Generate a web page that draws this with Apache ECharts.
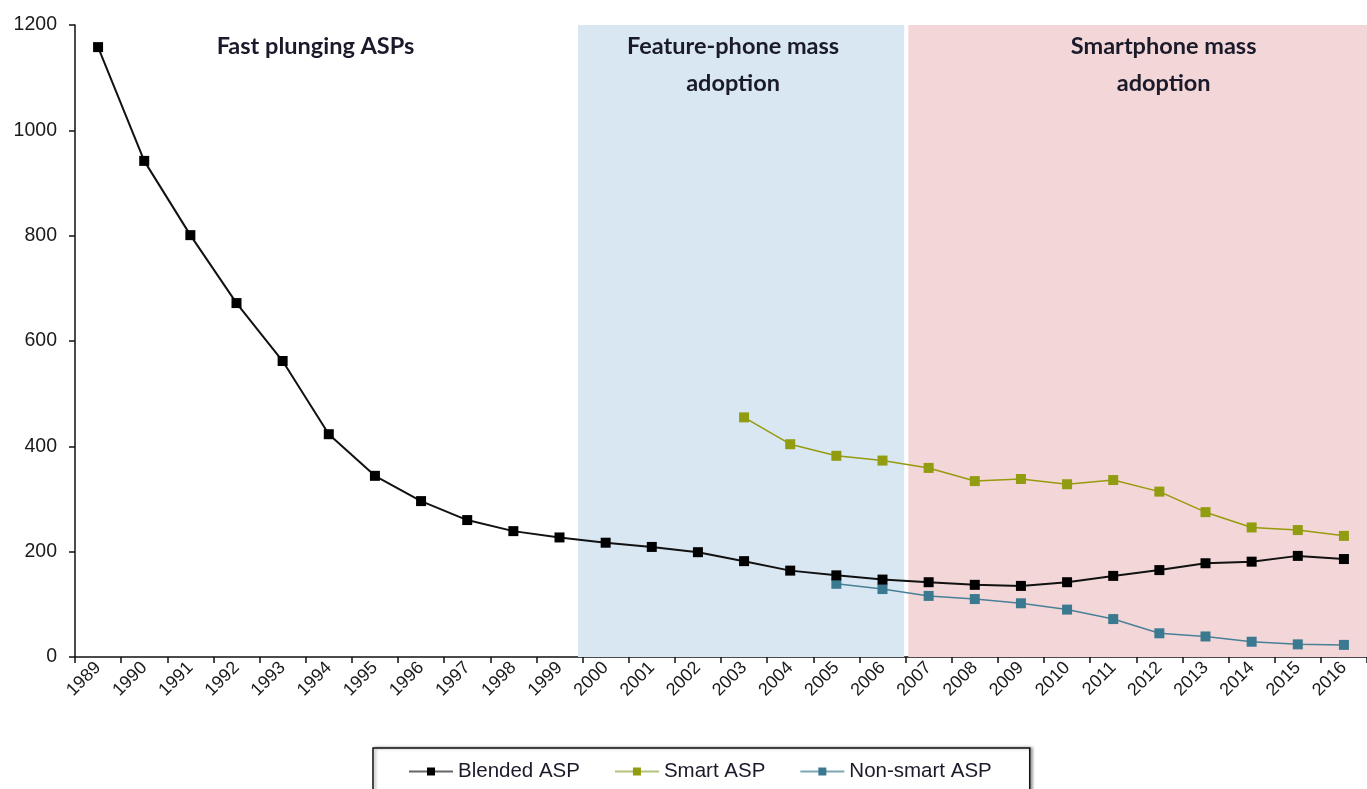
<!DOCTYPE html>
<html>
<head>
<meta charset="utf-8">
<script src="https://cdn.jsdelivr.net/npm/echarts@6/dist/echarts.min.js"></script>
<style>
html,body{margin:0;padding:0;background:#fff;}
#chart{width:1367px;height:789px;}
</style>
</head>
<body>
<div id="chart"></div>
<script>
const years = ['1989','1990','1991','1992','1993','1994','1995','1996','1997','1998','1999','2000','2001','2002','2003','2004','2005','2006','2007','2008','2009','2010','2011','2012','2013','2014','2015','2016'];
const blendedASP = [1158, 942, 801, 672, 562, 423, 344, 296, 260, 239, 227, 217, 209, 199, 182, 164, 155, 147, 142, 137, 135, 142, 154, 165, 178, 181, 192, 186];
const smartASP = [null,null,null,null,null,null,null,null,null,null,null,null,null,null, 455, 404, 382, 373, 359, 334, 338, 328, 336, 314, 275, 246, 241, 230];
const nonSmartASP = [null,null,null,null,null,null,null,null,null,null,null,null,null,null,null,null, 139, 129, 116, 110, 102, 90, 72, 45, 39, 29, 24, 23];
const yTicks = [0, 200, 400, 600, 800, 1000, 1200];
// phase bands, in category-slot units (0 = left edge of 1989, 28 = right edge of 2016)
const phases = [
  {name: 'Fast plunging ASPs', from: 0, to: 10.9, color: 'rgba(0,0,0,0)', shift: -11},
  {name: 'Feature-phone mass\nadoption', from: 10.9, to: 17.97, color: '#d9e7f3', shift: -8},
  {name: 'Smartphone mass\nadoption', from: 18.06, to: 28, color: '#f3d7d8', shift: 26}
];

const chart = echarts.init(document.getElementById('chart'));
const sym = 10;
const labelFont = 'Liberation Sans, Arial, sans-serif';
chart.setOption({
  animation: false,
  backgroundColor: '#fff',
  grid: {left: 75, right: 0, top: 25, bottom: 132, containLabel: false},
  legend: {
    left: 373, top: 748,
    padding: [13, 38, 30, 35],
    borderColor: '#111', borderWidth: 1.5,
    shadowColor: 'rgba(0,0,0,0.35)', shadowBlur: 3, shadowOffsetX: 2, shadowOffsetY: 0,
    backgroundColor: '#fff',
    itemWidth: 44, itemHeight: 10, itemGap: 34,
    textStyle: {fontFamily: labelFont, fontSize: 20.5, color: '#1a1a2a'},
    data: [
      {name: 'Blended ASP', lineStyle: {color: '#666'}},
      {name: 'Smart ASP', lineStyle: {color: '#b3c27a'}},
      {name: 'Non-smart ASP', lineStyle: {color: '#7fa6b3'}}
    ]
  },
  xAxis: [{
    type: 'category', data: years, boundaryGap: true,
    axisLine: {show: true, lineStyle: {color: '#111', width: 1.5}},
    axisTick: {show: true, length: 6, lineStyle: {color: '#111', width: 1.5}},
    axisLabel: {rotate: 45, fontFamily: labelFont, fontSize: 18, color: '#1a1a1a', margin: 8, interval: 0},
    splitLine: {show: false}
  }, {
    type: 'value', min: 0, max: 28, show: false
  }],
  yAxis: {
    type: 'value', min: 0, max: 1200, interval: 200,
    axisLine: {show: true, lineStyle: {color: '#111', width: 1.5}},
    axisTick: {show: true, length: 6, lineStyle: {color: '#111', width: 1.5}},
    axisLabel: {fontFamily: labelFont, fontSize: 19.5, color: '#1a1a1a', margin: 18,
      formatter: v => yTicks.includes(v) ? String(v) : ''},
    splitLine: {show: false}
  },
  series: [
    {
      name: 'phases', type: 'line', xAxisIndex: 1, data: [], silent: true,
      markArea: {
        silent: true,
        data: phases.map(p => [{
          xAxis: p.from, itemStyle: {color: p.color},
          label: {show: true, position: 'insideTop', distance: 3, offset: [p.shift, 0], formatter: p.name,
            fontFamily: 'Lato, Open Sans, sans-serif', fontWeight: 'bold', fontSize: 23.5, lineHeight: 37,
            color: '#1a1a2a', align: 'center'}
        }, {xAxis: p.to}])
      },
      z: 0
    },
    {
      name: 'Non-smart ASP', type: 'line', data: nonSmartASP,
      symbol: 'rect', symbolSize: sym,
      lineStyle: {color: '#4a8097', width: 1.5},
      itemStyle: {color: '#3b7990'},
      z: 3
    },
    {
      name: 'Smart ASP', type: 'line', data: smartASP,
      symbol: 'rect', symbolSize: sym,
      lineStyle: {color: '#969a0c', width: 1.5},
      itemStyle: {color: '#919c10'},
      z: 3
    },
    {
      name: 'Blended ASP', type: 'line', data: blendedASP,
      symbol: 'rect', symbolSize: sym,
      lineStyle: {color: '#111', width: 2},
      itemStyle: {color: '#000'},
      z: 4
    }
  ]
});
</script>
</body>
</html>
